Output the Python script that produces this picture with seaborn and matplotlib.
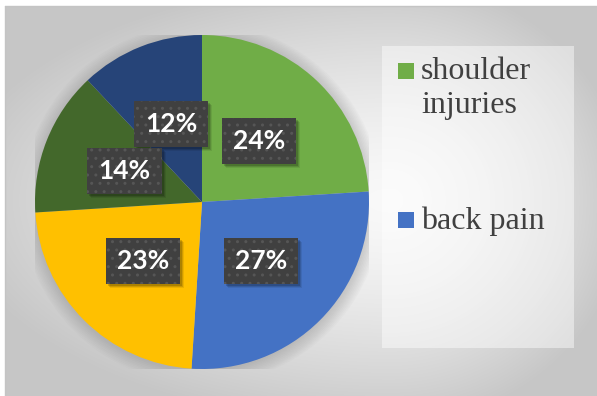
import numpy as np
import matplotlib
matplotlib.use("Agg")
import matplotlib.pyplot as plt
from matplotlib.patches import Circle, Rectangle
import seaborn as sns

# Data (clockwise from 12 o'clock)
shares = [24, 27, 23, 14, 12]
slice_colors = ["#70AD47", "#4472C4", "#FFC000", "#43682B", "#264478"]
legend_labels = ["shoulder\ninjuries", "back pain"]

sns.set_theme(style="white")
plt.rcParams["font.family"] = ["DejaVu Sans"]
plt.rcParams["hatch.linewidth"] = 1.0

W, H = 597, 396
fig = plt.figure(figsize=(W / 100, H / 100), dpi=100)

# background: soft radial grey gradient with thin white margin on top/left
bg = fig.add_axes([0, 0, 1, 1])
yy, xx = np.mgrid[0:H, 0:W].astype(float)
cx, cy = 390.0, 200.0
nx = np.where(xx < cx, (xx - cx) / (cx - 5), (xx - cx) / (W - cx))
ny = np.where(yy < cy, (yy - cy) / (cy - 6), (yy - cy) / (H - cy))
d = np.clip(np.sqrt(nx ** 2 + ny ** 2), 0, 1.15)
v = 0.975 - 0.16 * d ** 1.5
img = np.dstack([v, v, v])
img[:6, :, :] = 1.0
img[:, :5, :] = 1.0
bg.imshow(img, extent=[0, W, H, 0], aspect="auto", interpolation="bilinear")
bg.plot([5, W], [6, 6], color="#c4c4c4", lw=1)
bg.plot([5, 5], [6, H], color="#c4c4c4", lw=1)
# legend panel
bg.add_patch(Rectangle((382, 46), 192, 302, facecolor="white", alpha=0.45,
                       edgecolor="none"))
bg.set_xlim(0, W)
bg.set_ylim(H, 0)
bg.axis("off")

# legend (only the entries visible in the chart)
lx = 398
entry_y = [63, 212]
for lab, col, y0 in zip(legend_labels, slice_colors[:2], entry_y):
    bg.add_patch(Rectangle((lx, y0), 16, 16, facecolor=col, edgecolor="none"))
    bg.text(lx + 23, y0 - 6, lab, fontsize=23, color="#404040",
            family=["Liberation Serif", "DejaVu Serif"], va="top", ha="left",
            linespacing=1.25)

# pie axes: center (202, 202) px, radius 167 px
r = 167
pcx, pcy = 202, 202
ax = fig.add_axes([(pcx - r) / W, (H - pcy - r) / H, 2 * r / W, 2 * r / H])
ax.axis("off")

# soft shadow behind the pie
for rr in np.linspace(1.0, 1.08, 10):
    ax.add_patch(Circle((0.0, -0.01), rr, facecolor="#808080", alpha=0.04,
                        edgecolor="none", zorder=0))

wedges, texts, autotexts = ax.pie(
    shares,
    colors=slice_colors,
    startangle=90,
    counterclock=False,
    autopct="%1.0f%%",
    pctdistance=0.5,
    wedgeprops=dict(linewidth=0, antialiased=True),
    textprops=dict(color="white", fontsize=19, fontweight="bold",
                   family=["Lato", "DejaVu Sans"]),
)
ax.set_xlim(-1, 1)
ax.set_ylim(-1, 1)

for t in autotexts:
    t.set_zorder(5)
    t.set_bbox(dict(boxstyle="square,pad=0.42", facecolor="#404040",
                    edgecolor="#565656", linewidth=0, hatch=".."))

# soft drop shadow under each label box (above the wedges)
fig.canvas.draw()
renderer = fig.canvas.get_renderer()
for t in autotexts:
    bb = t.get_bbox_patch().get_window_extent(renderer)
    for k, a in [(4, 0.08), (3, 0.12), (2, 0.16)]:
        ax.add_patch(Rectangle((bb.x0 + k, bb.y0 - k), bb.width, bb.height,
                               transform=None, facecolor="black", alpha=a,
                               edgecolor="none", zorder=4, clip_on=False))

fig.savefig("out.png", dpi=100)
